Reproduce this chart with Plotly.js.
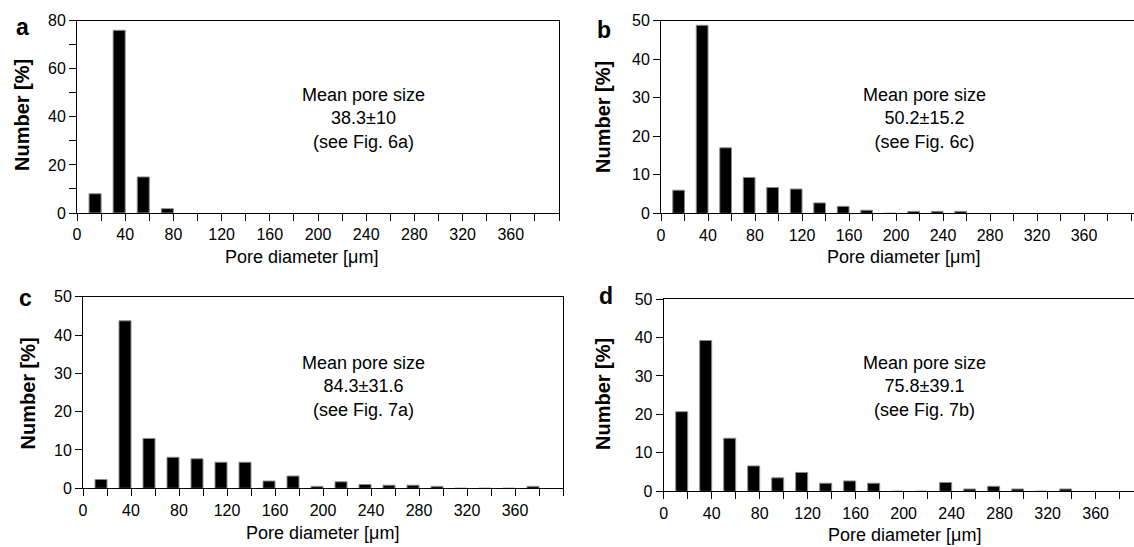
<!DOCTYPE html>
<html>
<head>
<meta charset="utf-8">
<script src="https://cdn.plot.ly/plotly-3.0.1.min.js"></script>
<style>html,body{margin:0;padding:0;background:#fff;}#chart{width:1134px;height:547px;}</style>
</head>
<body>
<div id="chart"></div>
<script>
// Bin centres of the pore-diameter histogram (µm), bins 10 µm wide
const binCenters = [15, 35, 55, 75, 95, 115, 135, 155, 175, 195, 215, 235, 255, 275, 295, 315, 335, 355, 375];

// Number [%] per bin for each panel
const pctA = [8, 76, 15, 1.8];
const pctB = [6, 48.8, 17, 9.3, 6.7, 6.3, 2.7, 1.8, 0.8, 0, 0.5, 0.5, 0.5];
const pctC = [2.3, 43.7, 13.0, 8.1, 7.7, 6.8, 6.8, 1.9, 3.2, 0.5, 1.7, 1.0, 0.8, 0.8, 0.5, 0, 0, 0, 0.5];
const pctD = [20.7, 39.2, 13.8, 6.6, 3.5, 4.9, 2.1, 2.7, 2.1, 0, 0, 2.3, 0.6, 1.3, 0.6, 0, 0.6];

// Tick labels
const xTickVals = [0,20,40,60,80,100,120,140,160,180,200,220,240,260,280,300,320,340,360,380,400];
const xTickText = ['0','','40','','80','','120','','160','','200','','240','','280','','320','','360','',''];
const yTickValsA = [0,10,20,30,40,50,60,70,80];
const yTickTextA = ['0','','20','','40','','60','','80'];
const yTickValsB = [0,10,20,30,40,50];
const yTickTextB = ['0','10','20','30','40','50'];

// Panel texts
const panelLetters = ['a', 'b', 'c', 'd'];
const meanTexts = [
  'Mean pore size<br>38.3±10<br>(see Fig. 6a)',
  'Mean pore size<br>50.2±15.2<br>(see Fig. 6c)',
  'Mean pore size<br>84.3±31.6<br>(see Fig. 7a)',
  'Mean pore size<br>75.8±39.1<br>(see Fig. 7b)'
];
const xTitle = 'Pore diameter [μm]';
const yTitle = 'Number [%]';

const FONT = 'Liberation Sans, Arial, sans-serif';
const W = 1134, H = 547;
const px = v => v / W;
const py = v => 1 - v / H;

function barTrace(vals, xa, ya) {
  return {
    type: 'bar', x: binCenters.slice(0, vals.length), y: vals, width: 10,
    xaxis: xa, yaxis: ya,
    marker: {color: '#000', line: {color: '#8a8a8a', width: 1}},
    hoverinfo: 'skip', showlegend: false
  };
}

const data = [
  barTrace(pctA, 'x', 'y'),
  barTrace(pctB, 'x2', 'y2'),
  barTrace(pctC, 'x3', 'y3'),
  barTrace(pctD, 'x4', 'y4')
];

function xax(domain, range, anchor) {
  return {
    domain: domain, range: range, anchor: anchor,
    tickmode: 'array', tickvals: xTickVals, ticktext: xTickText,
    ticks: 'outside', ticklen: 7, tickwidth: 1, tickcolor: '#000',
    showline: true, linecolor: '#000', linewidth: 1, mirror: true,
    showgrid: false, zeroline: false,
    tickfont: {family: FONT, size: 16, color: '#000'}
  };
}
function yax(domain, range, anchor, tv, tt, mirror) {
  return {
    domain: domain, range: range, anchor: anchor,
    tickmode: 'array', tickvals: tv, ticktext: tt,
    ticks: 'outside', ticklen: 7, tickwidth: 1, tickcolor: '#000',
    showline: true, linecolor: '#000', linewidth: 1, mirror: mirror,
    showgrid: false, zeroline: false,
    tickfont: {family: FONT, size: 16, color: '#000'}
  };
}

const annPos = {
  letters: [[22.5, 27], [604, 29.5], [25, 297.5], [606, 296]],
  means: [[363, 118.5], [924, 118.5], [363, 386], [924, 386]],
  xt: [[301, 257], [903, 257], [322, 533], [904, 535]],
  yt: [[22, 115], [603, 117], [27, 393.5], [603, 394]]
};

const annotations = [];
for (let i = 0; i < 4; i++) {
  annotations.push({
    text: panelLetters[i], xref: 'paper', yref: 'paper',
    x: px(annPos.letters[i][0]), y: py(annPos.letters[i][1]),
    xanchor: 'center', yanchor: 'middle', showarrow: false,
    font: {family: FONT, size: 23, color: '#000', weight: 'bold'}
  });
  annotations.push({
    text: meanTexts[i], xref: 'paper', yref: 'paper',
    x: px(annPos.means[i][0]), y: py(annPos.means[i][1]),
    xanchor: 'center', yanchor: 'middle', showarrow: false, align: 'center',
    font: {family: FONT, size: 18, color: '#000'}
  });
  annotations.push({
    text: xTitle, xref: 'paper', yref: 'paper',
    x: px(annPos.xt[i][0]), y: py(annPos.xt[i][1]),
    xanchor: 'center', yanchor: 'middle', showarrow: false,
    font: {family: FONT, size: 18, color: '#000'}
  });
  annotations.push({
    text: yTitle, xref: 'paper', yref: 'paper',
    x: px(annPos.yt[i][0]), y: py(annPos.yt[i][1]),
    xanchor: 'center', yanchor: 'middle', showarrow: false, textangle: -90,
    font: {family: FONT, size: 20, color: '#000', weight: 'bold'}
  });
}

const layout = {
  width: W, height: H,
  margin: {l: 0, r: 0, t: 0, b: 0},
  paper_bgcolor: '#fff', plot_bgcolor: '#fff',
  showlegend: false, bargap: 0,
  font: {family: FONT, color: '#000'},
  xaxis:  xax([px(77), px(559)], [0, 400], 'y'),
  yaxis:  yax([py(213), py(20.7)], [0, 80], 'x', yTickValsA, yTickTextA, true),
  xaxis2: xax([px(661), 1], [0, 402.5], 'y2'),
  yaxis2: yax([py(213.3), py(20.7)], [0, 50], 'x2', yTickValsB, yTickTextB, false),
  xaxis3: xax([px(83), px(563)], [0, 400], 'y3'),
  yaxis3: yax([py(488.3), py(296.7)], [0, 50], 'x3', yTickValsB, yTickTextB, true),
  xaxis4: xax([px(663.7), 1], [0, 392], 'y4'),
  yaxis4: yax([py(491.3), py(299)], [0, 50], 'x4', yTickValsB, yTickTextB, false),
  annotations: annotations
};

Plotly.newPlot('chart', data, layout, {displayModeBar: false, staticPlot: true});
</script>
</body>
</html>
